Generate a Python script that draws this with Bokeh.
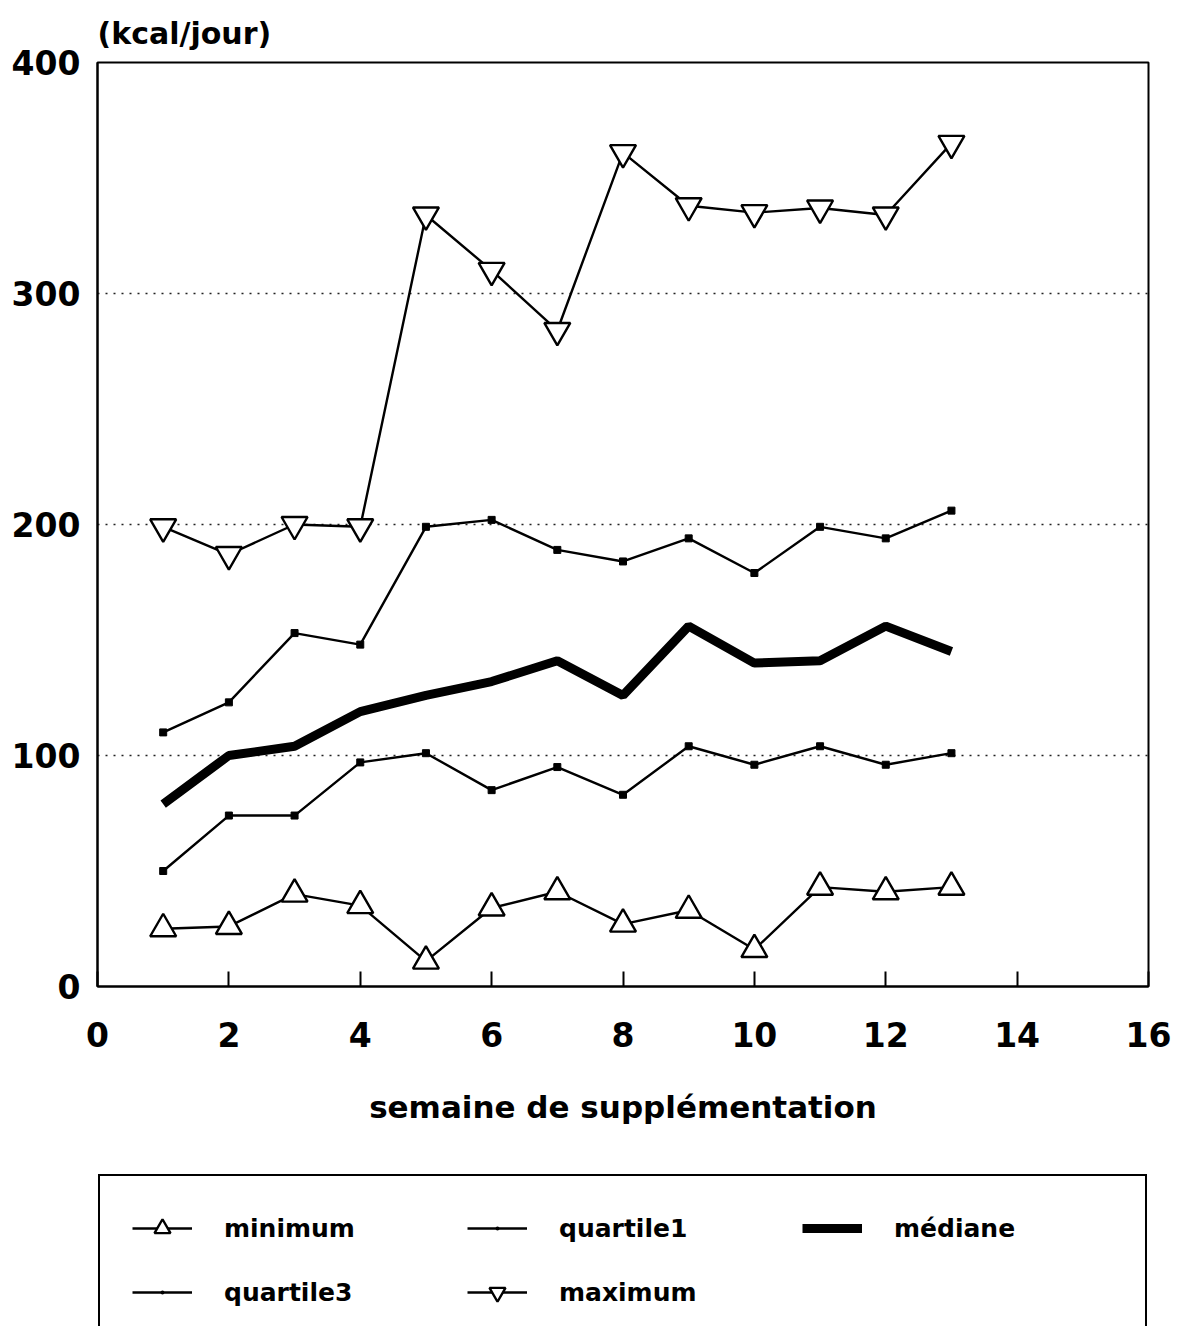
from bokeh.plotting import figure
from bokeh.layouts import column
from bokeh.models import Range1d, FixedTicker, Legend, LegendItem
from bokeh.embed import file_html
from bokeh.resources import INLINE

weeks = [1, 2, 3, 4, 5, 6, 7, 8, 9, 10, 11, 12, 13]
minimum = [25, 26, 40, 35, 11, 34, 41, 27, 33, 16, 43, 41, 43]
quartile1 = [50, 74, 74, 97, 101, 85, 95, 83, 104, 96, 104, 96, 101]
mediane = [79, 100, 104, 119, 126, 132, 141, 126, 156, 140, 141, 156, 145]
quartile3 = [110, 123, 153, 148, 199, 202, 189, 184, 194, 179, 199, 194, 206]
maximum = [199, 187, 200, 199, 334, 310, 284, 361, 338, 335, 337, 334, 365]

x_ticks = [0, 2, 4, 6, 8, 10, 12, 14, 16]
y_ticks = [0, 100, 200, 300, 400]

FONT = "DejaVu Sans"
LW = 2.4


def add_series(fig, q_marker="square", q_size=7):
    r = {}
    r["min"] = [fig.line(weeks, minimum, line_color="black", line_width=LW),
                fig.scatter(weeks, minimum, marker="triangle", size=26,
                            fill_color="white", line_color="black", line_width=LW)]
    r["q1"] = [fig.line(weeks, quartile1, line_color="black", line_width=LW),
               fig.scatter(weeks, quartile1, marker=q_marker, size=q_size,
                           fill_color="black", line_color="black", line_width=1)]
    r["med"] = [fig.line(weeks, mediane, line_color="black", line_width=9)]
    r["q3"] = [fig.line(weeks, quartile3, line_color="black", line_width=LW),
               fig.scatter(weeks, quartile3, marker=q_marker, size=q_size,
                           fill_color="black", line_color="black", line_width=1)]
    r["max"] = [fig.line(weeks, maximum, line_color="black", line_width=LW),
                fig.scatter(weeks, maximum, marker="inverted_triangle", size=26,
                            fill_color="white", line_color="black", line_width=LW)]
    return r


# ---------------- main chart ----------------
p = figure(frame_width=1051, frame_height=924,
           min_border_left=97, min_border_right=27,
           min_border_top=62, min_border_bottom=187,
           x_range=Range1d(0, 16), y_range=Range1d(0, 400),
           output_backend="svg", toolbar_location=None,
           title="(kcal/jour)")

p.background_fill_color = "white"
p.border_fill_color = "white"
p.outline_line_color = "black"
p.outline_line_width = 2
p.outline_line_alpha = 1.0

p.title.text_font = FONT
p.title.text_font_style = "bold"
p.title.text_font_size = "30px"
p.title.text_color = "black"
p.title.align = "left"
p.title.standoff = 24

for ax in (p.xaxis[0], p.yaxis[0]):
    ax.axis_line_width = 2
    ax.axis_line_color = "black"
    ax.major_tick_line_width = 2
    ax.major_tick_line_color = "black"
    ax.minor_tick_line_color = None
    ax.major_label_text_font = FONT
    ax.major_label_text_font_style = "bold"
    ax.major_label_text_font_size = "33px"
    ax.major_label_text_color = "black"

p.xaxis.ticker = FixedTicker(ticks=x_ticks)
p.xaxis.major_tick_in = 15
p.xaxis.major_tick_out = 0
p.xaxis.major_label_standoff = 35
p.xaxis.axis_label = "semaine de supplémentation"
p.xaxis.axis_label_text_font = FONT
p.xaxis.axis_label_text_font_style = "bold"
p.xaxis.axis_label_text_font_size = "31px"
p.xaxis.axis_label_text_color = "black"
p.xaxis.axis_label_standoff = 39

p.yaxis.ticker = FixedTicker(ticks=y_ticks)
p.yaxis.major_tick_in = 0
p.yaxis.major_tick_out = 0
p.yaxis.major_label_standoff = 17

p.xgrid.grid_line_color = None
p.ygrid.ticker = FixedTicker(ticks=[100, 200, 300])
p.ygrid.grid_line_color = "#222222"
p.ygrid.grid_line_width = 1.6
p.ygrid.grid_line_dash = "2 6"

add_series(p)

# ---------------- legend panel ----------------
p2 = figure(width=1175, height=153,
            min_border_left=97, min_border_right=5,
            min_border_top=0, min_border_bottom=0,
            x_range=Range1d(-10, -9), y_range=Range1d(0, 1),
            x_axis_location=None, y_axis_location=None,
            output_backend="svg", toolbar_location=None)
p2.outline_line_color = None
p2.grid.visible = False
p2.background_fill_color = "white"
p2.border_fill_color = "white"

rr = add_series(p2, q_marker="dot", q_size=16)

legend = Legend(items=[
    LegendItem(label="minimum", renderers=rr["min"]),
    LegendItem(label="quartile1", renderers=rr["q1"]),
    LegendItem(label="médiane", renderers=rr["med"]),
    LegendItem(label="quartile3", renderers=rr["q3"]),
    LegendItem(label="maximum", renderers=rr["max"]),
],
    location="top_left",
    orientation="horizontal", ncols=3,
    margin=1, padding=32, spacing=24,
    glyph_width=60, glyph_height=40,
    label_standoff=32, label_width=219,
    label_text_font=FONT, label_text_font_style="bold",
    label_text_font_size="25px", label_text_color="black",
    border_line_color="black", border_line_width=2, border_line_alpha=1.0,
    background_fill_color="white", background_fill_alpha=1.0,
)
p2.add_layout(legend, "center")

layout = column(p, p2, spacing=0)
open("out.html", "w").write(file_html(layout, INLINE))
